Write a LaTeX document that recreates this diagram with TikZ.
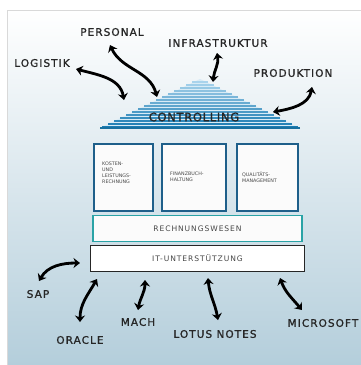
\documentclass[tikz,border=0pt]{standalone}
\usepackage{fontspec}
\setmainfont{DejaVu Sans}
\newfontfamily\widefont[LetterSpace=10,FakeBold=1.2]{DejaVu Sans}
\newfontfamily\ctrlfont[LetterSpace=6,FakeBold=1.5]{DejaVu Sans}
\newfontfamily\boxfont[LetterSpace=12]{DejaVu Sans}
\usetikzlibrary{arrows.meta}
\definecolor{pyrlight}{HTML}{A9D3EC}
\definecolor{pyrdark}{HTML}{1B7CB2}
\definecolor{boxblue}{HTML}{1E5F8A}
\definecolor{boxteal}{HTML}{2AA3A6}
\definecolor{inkc}{HTML}{262626}
\definecolor{bgbottom}{HTML}{B4CEDB}
\definecolor{bgmid}{HTML}{F3F5F6}
\tikzset{
  lbl/.style={font=\widefont\fontsize{10.5}{11}\selectfont, text=inkc, inner sep=0pt},
  dbl/.style={line width=2.8pt, draw=black, line cap=round,
    {Stealth[length=6.5pt,width=10pt]}-{Stealth[length=6.5pt,width=10pt]}},
  subbox/.style={draw=boxblue, line width=1.9pt, fill=white!97!gray},
  subtext/.style={font=\fontsize{4.8}{5.8}\selectfont, text=inkc!85, align=left, inner sep=0pt},
}
\begin{document}
\begin{tikzpicture}[x=1pt,y=-1pt]
\useasboundingbox (0,0) rectangle (361,365);
% panel
\shade[top color=white, middle color=bgmid, bottom color=bgbottom] (7,10) rectangle (361,365);
\draw[gray!30, line width=0.8pt] (7,365) -- (7,10) -- (361,10);

% pyramid
\fill[pyrlight!45] (200,79) -- (300,128) -- (100,128) -- cycle;
\foreach \i in {0,...,15} {
  \pgfmathsetmacro\yy{82+\i*3}
  \pgfmathsetmacro\hw{(\yy-78)*100/50}
  \pgfmathtruncatemacro\p{\i*100/15}
  \draw[line width=2.5pt, pyrdark!\p!pyrlight] ({200-\hw},\yy) -- ({200+\hw},\yy);
}
\draw[line width=1.8pt, pyrdark!90!black] (100,128) -- (300,128);
\node[font=\ctrlfont\fontsize{11.5}{12}\selectfont, text=inkc] (ctrl) at (194,117) {CONTROLLING};
\coordinate (ptop) at (213,82);
\coordinate (pleft) at (124,100);
\coordinate (pleft2) at (157,97);
\coordinate (pright) at (273,112);

% three boxes
\draw[subbox] (94,144) rectangle (153,211);
\draw[subbox] (162,144) rectangle (226,211);
\draw[subbox] (237,144) rectangle (298,211);
\node[subtext, anchor=north west] (b1) at (102,162) {KOSTEN-\\UND\\LEISTUNGS-\\RECHNUNG};
\node[subtext, anchor=north west] (b2) at (170,172) {FINANZBUCH-\\HALTUNG};
\node[subtext, anchor=north west] (b3) at (242,172) {QUALITÄTS-\\MANAGEMENT};

% Rechnungswesen
\node[draw=boxteal, line width=1.9pt, fill=white!97!gray, minimum width=209pt, minimum height=26pt, inner sep=0pt,
  font=\boxfont\fontsize{7.6}{8}\selectfont, text=inkc!85] (rw) at (197.5,228.5) {RECHNUNGSWESEN};
% IT
\node[draw=black!85, line width=1.9pt, fill=white, minimum width=214pt, minimum height=26pt, inner sep=0pt,
  font=\boxfont\fontsize{7.6}{8}\selectfont, text=inkc!85] (it) at (197.5,258.5) {IT-UNTERSTÜTZUNG};

% top labels
\node[lbl] (log) at (42,63) {LOGISTIK};
\node[lbl] (pers) at (112,32) {PERSONAL};
\node[lbl] (infra) at (218,43) {INFRASTRUKTUR};
\node[lbl] (prod) at (293,73) {PRODUKTION};

\coordinate (logA) at (76,69);
\coordinate (persA) at (110,45);
\coordinate (infraA) at (217,53);
\coordinate (prodA) at (312,87);
\draw[dbl] (logA) to[out=-15,in=100] (pleft);
\draw[dbl] (persA) to[out=-65,in=105] (pleft2);
\draw[dbl] (infraA) to[out=-80,in=85] (ptop);
\draw[dbl] (prodA) to[out=-100,in=10] (pright);

% bottom labels
\node[lbl] (sap) at (38,294) {SAP};
\node[lbl] (ora) at (80,340) {ORACLE};
\node[lbl] (mach) at (138,322) {MACH};
\node[lbl] (lotus) at (215,334) {LOTUS NOTES};
\node[lbl] (ms) at (323,323) {MICROSOFT};

\coordinate (sapA) at (39,281);
\coordinate (sapB) at (80,263);
\coordinate (oraA) at (97,279);
\coordinate (oraB) at (80,322);
\coordinate (machA) at (145,280);
\coordinate (machB) at (138,310);
\coordinate (lotA) at (208,278);
\coordinate (lotB) at (218,320);
\coordinate (msA) at (280,278);
\coordinate (msB) at (302,310);
\draw[dbl] (sapA) to[out=60,in=180] (sapB);
\draw[dbl] (oraA) to[out=-120,in=90] (oraB);
\draw[dbl] (machA) to[out=-90,in=80] (machB);
\draw[dbl] (lotA) to[out=-85,in=100] (lotB);
\draw[dbl] (msA) to[out=-70,in=130] (msB);
\end{tikzpicture}
\end{document}
